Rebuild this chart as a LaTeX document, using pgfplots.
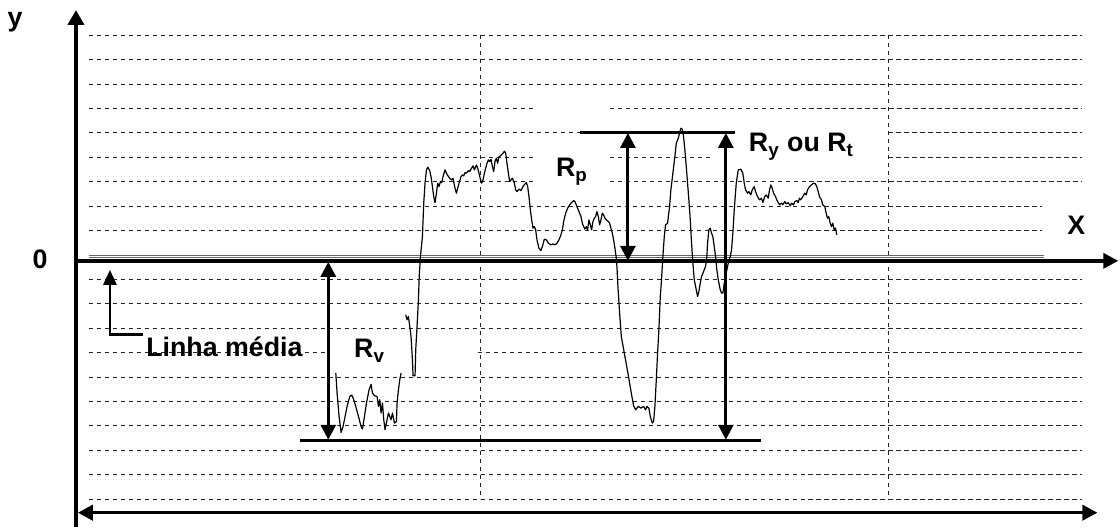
\documentclass[border=0pt]{standalone}
\usepackage{fontspec}
\setmainfont{Liberation Sans}
\usepackage{pgfplots}
\pgfplotsset{compat=1.18}
\usetikzlibrary{arrows.meta}
\tikzset{
  grd/.style={black!85, line width=0.55pt, dash pattern=on 2.2pt off 1.8pt},
  lbl/.style={font=\bfseries\fontsize{13.4}{16}\selectfont, inner sep=0pt},
}
\begin{document}
\begin{tikzpicture}
\begin{axis}[
  scale only axis, width=560pt, height=263.5pt,
  xmin=0, xmax=1120, ymin=0, ymax=527, y dir=reverse,
  hide axis, clip=false, unbounded coords=jump,
]
\addplot[draw=none] coordinates {(0,0) (1120,527)};
% horizontal dashed grid
\addplot[grd] coordinates {(89,35.5) (1083,35.5)};
\addplot[grd] coordinates {(89,59.5) (1083,59.5)};
\addplot[grd] coordinates {(89,84.5) (1083,84.5)};
\addplot[grd] coordinates {(89,108.5) (535,108.5) (535,nan) (610,108.5) (1083,108.5)};
\addplot[grd] coordinates {(89,132.5) (580,132.5) (580,nan) (889,132.5) (1083,132.5)};
\addplot[grd] coordinates {(89,157.5) (535,157.5) (535,nan) (610,157.5) (713,157.5) (713,nan) (889,157.5) (1083,157.5)};
\addplot[grd] coordinates {(89,181.5) (535,181.5) (535,nan) (610,181.5) (1083,181.5)};
\addplot[grd] coordinates {(89,206.5) (1043,206.5)};
\addplot[grd] coordinates {(89,230.5) (1043,230.5)};
\addplot[grd] coordinates {(89,279.5) (1083,279.5)};
\addplot[grd] coordinates {(89,303.5) (1083,303.5)};
\addplot[grd] coordinates {(89,328.5) (1083,328.5)};
\addplot[grd] coordinates {(89,352.5) (330,352.5) (330,nan) (478,352.5) (1083,352.5)};
\addplot[grd] coordinates {(89,377.5) (1083,377.5)};
\addplot[grd] coordinates {(89,401.5) (1083,401.5)};
\addplot[grd] coordinates {(89,425.5) (1083,425.5)};
\addplot[grd] coordinates {(89,450.5) (1083,450.5)};
\addplot[grd] coordinates {(89,474.5) (1083,474.5)};
\addplot[grd] coordinates {(89,499.5) (1083,499.5)};
% vertical dashed grid
\addplot[grd] coordinates {(480.5,35) (480.5,499)};
\addplot[grd] coordinates {(889.5,35) (889.5,499)};
% mean line (thin double)
\addplot[black!60, line width=0.45pt] coordinates {(89,255.5) (1045,255.5)};
\addplot[black!60, line width=0.45pt] coordinates {(89,257.5) (1045,257.5)};
% profile
\addplot[black, line width=0.6pt, line join=round] coordinates {
(336,373.3) (337.3,393.3) (339.3,416.7) (341.3,432.7) (343.3,426.7) (345.3,416.7) (347.3,406.7) (350,396.7) (352,395.3) (354,400) (356,406.7) (358.7,416.7) (361.3,426.7) (362.7,429.3) (364.7,416.7) (366.7,403.3) (369.3,390) (371.3,384.7) (372.7,393.3) (374.7,396) (377.3,396.7) (378.7,406.7) (380,400) (381.3,413.3) (382.7,403.3) (384,420) (385.3,430) (387.3,420) (388.7,413.3) (390,416.7) (391.3,420) (392.7,413.3) (394.7,423.3) (396.7,421.7) (397.3,403.3) (398.7,390) (400,380) (401.3,373.3)
(403,nan)
(406,315) (407.3,320) (408.7,316.7) (410,326.7) (411.3,336.7) (412.7,360) (413.3,376) (415.3,376) (416,350) (417.3,326.7) (418.7,300) (419.5,276) (420.7,256.7) (422.7,236.7) (424,203.3) (425.3,183.3) (426.7,170) (428,167.3) (430,170.7) (431.3,176.7) (432.7,186.7) (434,196.7) (435.3,202.7) (436.7,193.3) (438,183.3) (439.3,186.7) (440.7,181.7) (442,182.7) (443.3,176.7) (445.3,170) (446.7,173.3) (448.7,176.7) (450,178.3) (452,180) (453.3,178.3) (455.3,188.3) (456.7,193.3) (458,188.3) (459.3,183.3) (461.3,176.7) (462.7,175) (464,176) (465.3,172.7) (466.7,173.3) (468.7,170.7) (470,171.7) (471.3,169.3) (473.3,166) (474.7,170) (476.7,165) (478,168.3) (479.3,173.3) (480.7,179.3) (482,183.3) (483.3,180) (484.7,173.3) (486,168.3) (487.3,163.3) (488.7,160) (490,161.7) (491.3,159.3) (492.7,166.7) (494,171.7) (495.3,161.7) (496.7,158.3) (498,163.3) (499.3,156.7) (500.7,156) (502,154.7) (503.3,153.3) (504.7,151.3) (506,153.3) (507.3,163.3) (508.7,173.3) (510,181.7) (511.3,180) (512.7,178.3) (514.7,183.3) (516,190) (517.3,191.7) (519.3,189.3) (521.3,190.7) (523.3,186.7) (525.3,184) (526.7,182.7) (528,186.7) (529.3,196.7) (530.7,210) (532,220) (533.3,228.3) (534.7,226.7) (536,230) (537.3,240) (539.3,248.3) (541.3,250.7) (542.7,246.7) (544.7,239.3) (546.7,240) (548.7,243.3) (551.3,245) (553.3,244) (555.3,245) (557.3,243.3) (559.3,240) (561.3,235) (562.7,230) (564,221.7) (566,213.3) (568,208.3) (570,205) (572,202.7) (574,200.7) (575.3,201.7) (577.3,206.7) (579.3,211.7) (581.3,216.7) (582.7,223.3) (584,226.7) (585.3,229.3) (586.7,226.7) (588,230) (589.3,220) (590.7,225) (592,230) (593.3,221.7) (594.7,218.3) (596,216.7) (597.3,211.7) (598.7,216.7) (600,225) (601.3,220) (602.7,213.3) (604,215) (605.3,218.3) (606.7,220) (608.7,221.7) (610,223.3) (611.3,228.3) (612.7,233.3) (614,240) (615.3,248.3) (616.7,258.3) (617.5,270) (618.3,286.7) (620,313.3) (621.7,336.7) (625,355) (628.3,373.3) (631.7,393.3) (634,406) (636,410) (638.7,406.7) (641.3,408.3) (644,406.7) (646,410) (647.3,406.7) (649.3,408.3) (650.7,416.7) (652.7,423.3) (654,421.7) (655.3,406.7) (656.7,380) (658,353.3) (659.3,330) (660.7,296.7) (661.7,283.3) (663.3,256.7) (664.7,236.7) (666,225) (668,223.3) (670,206.7) (671.3,190) (673.3,173.3) (675.3,156.7) (676.7,143.3) (678.7,138.3) (680,133.3) (681.3,128.3) (682.7,129.3) (684,136.7) (685.3,150) (686.7,166.7) (688,183.3) (689.3,200) (690.7,220) (692,243.3) (693.3,263.3) (694.7,280) (696.7,290) (698,296.7) (699.3,291.7) (700.7,283.3) (702,276.7) (704,271.7) (706,266.7) (707.3,256.7) (708,243.3) (709.3,230) (710.7,228.3) (712,233.3) (713.3,236.7) (714.7,246.7) (716,256.7) (717.3,270) (718.7,280) (720.7,290) (722,293.3) (723.3,293.3) (724.7,283.3) (726.7,273.3) (728.7,263.3) (730.7,256.7) (732,250) (733.3,233.3) (734.7,210) (736.7,183.3) (738.7,170) (741.3,169.3) (743.3,173.3) (744.7,183.3) (746,190) (748,193.3) (749.3,191.7) (751.3,195) (752.7,190) (754.7,186.7) (756,191.7) (758,196.7) (760,200) (762,198.3) (763.3,202.7) (765.3,196.7) (766.7,195) (768.7,198.3) (770,190) (771.3,185) (772.7,188.3) (774,193.3) (776,196.7) (777.3,200) (778.7,202.7) (780,205) (782,203.3) (783.3,205) (785.3,201.7) (786.7,204) (788.7,202.7) (790.7,206) (792,203.3) (794,205) (795.3,201.7) (797.3,200.7) (798.7,202.7) (800,198.3) (801.3,200) (803.3,196.7) (805.3,193.3) (806.7,195) (808,190) (810,186.7) (812,185) (814,183.3) (816,184) (817.3,186.7) (818.7,191.7) (820,196.7) (822,200) (823.3,205) (825.3,206.7) (826.7,213.3) (828,218.3) (829.3,216.7) (830.7,223.3) (832,226.7) (833.3,223.3) (834.7,230) (836,228.3) (837.3,235)
};
% axes
\addplot[black, line width=2pt, -{Triangle[length=7.5pt,width=8pt]}] coordinates {(76,527) (76,10)};
\addplot[black, line width=1.7pt, -{Triangle[length=7.5pt,width=7.5pt]}] coordinates {(76,261) (1119,261)};
\addplot[black, line width=1.3pt, {Triangle[length=7.5pt,width=7.8pt]}-{Triangle[length=7.5pt,width=7.8pt]}] coordinates {(78,513) (1098,513)};
% reference lines
\addplot[black, line width=1.5pt] coordinates {(580,132.5) (735,132.5)};
\addplot[black, line width=1.5pt] coordinates {(300,441) (761,441)};
% Rv, Rp, Ry arrows
\addplot[black, line width=1.5pt, {Triangle[length=7.5pt,width=7.5pt]}-{Triangle[length=7.5pt,width=7.5pt]}] coordinates {(328.5,262) (328.5,440)};
\addplot[black, line width=1.5pt, {Triangle[length=7.5pt,width=7.5pt]}-{Triangle[length=7.5pt,width=7.5pt]}] coordinates {(628.3,133) (628.3,261)};
\addplot[black, line width=1.5pt, {Triangle[length=7.5pt,width=7.5pt]}-{Triangle[length=7.5pt,width=7.5pt]}] coordinates {(726.3,133) (726.3,440)};
% Linha media pointer
\addplot[black, line width=1.4pt, -{Triangle[length=7.5pt,width=6.5pt]}] coordinates {(143,335) (110,335) (110,270)};
% labels
\node[lbl, anchor=base] at (axis cs:15,26.5) {y};
\node[lbl, anchor=base] at (axis cs:40,269) {0};
\node[lbl, anchor=base] at (axis cs:1077,235) {X};
\node[lbl, anchor=base west] at (axis cs:556,177) {R\textsubscript{p}};
\node[lbl, anchor=base west] at (axis cs:749,152) {R\textsubscript{y} ou R\textsubscript{t}};
\node[lbl, anchor=base west] at (axis cs:354,358) {R\textsubscript{v}};
\node[lbl, anchor=base west] at (axis cs:146,357) {Linha média};
\end{axis}
\end{tikzpicture}
\end{document}
